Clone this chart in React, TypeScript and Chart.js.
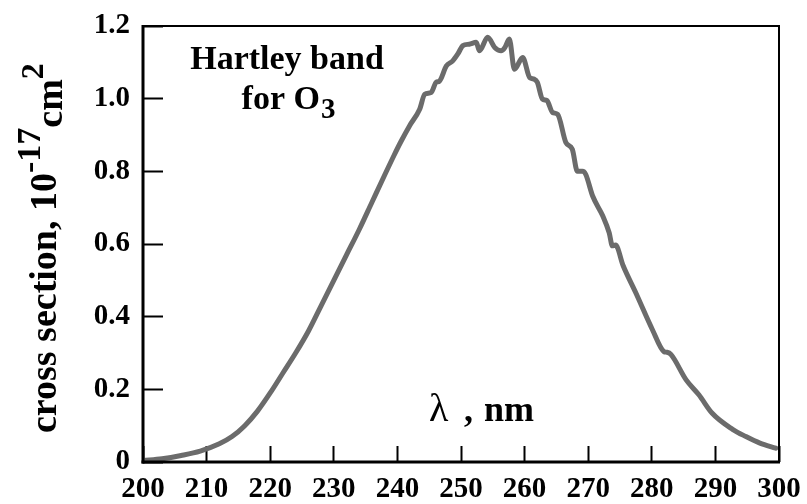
import React, { useEffect, useRef } from 'react';
import { Chart, registerables } from 'chart.js';

Chart.register(...registerables);

// Wavelength (nm)
const wavelengths = [
  200, 203, 206, 209, 212, 214, 216, 218, 220, 222, 224, 226, 228, 230, 232, 234, 236, 238,
  239.5, 240.5, 241.9, 243.5, 244.3, 245.3, 246.1, 246.6, 247.7, 248.7, 249.5, 250.3, 251.3,
  252.4, 252.9, 254.2, 255.3, 256.3, 256.9, 257.6, 258.4, 259.7, 260.8, 261.5, 262.0, 262.8,
  263.5, 264.4, 265.2, 266.5, 267.5, 268.3, 269.1, 269.6, 270.7, 272.3, 273.3, 273.8, 274.3,
  275.5, 277.5, 280.1, 281.9, 282.4, 283.0, 285.4, 287.4, 289.5, 292.7, 294.8, 297.0, 299.5,
];
// Cross section (10^-17 cm^2)
const crossSection = [
  0.004, 0.009, 0.018, 0.03, 0.05, 0.07, 0.1, 0.14, 0.19, 0.245, 0.3, 0.36, 0.43, 0.5, 0.57,
  0.64, 0.715, 0.79, 0.845, 0.88, 0.925, 0.971, 1.012, 1.017, 1.045, 1.048, 1.09, 1.104, 1.123,
  1.146, 1.15, 1.155, 1.132, 1.169, 1.141, 1.132, 1.141, 1.164, 1.081, 1.113, 1.058, 1.054,
  1.045, 0.999, 0.995, 0.962, 0.957, 0.879, 0.861, 0.8, 0.8, 0.792, 0.732, 0.677, 0.631, 0.595,
  0.597, 0.54, 0.465, 0.364, 0.304, 0.302, 0.296, 0.226, 0.185, 0.134, 0.09, 0.07, 0.052, 0.038,
];

const xTickValues = [200, 210, 220, 230, 240, 250, 260, 270, 280, 290, 300];
const yTickValues = [0, 0.2, 0.4, 0.6, 0.8, 1.0, 1.2];

const SERIF = '"Liberation Serif", "Times New Roman", serif';

const framePlugin = {
  id: 'frameAndText',
  afterDraw(chart: any) {
    const ctx = chart.ctx as CanvasRenderingContext2D;
    const area = chart.chartArea;
    const left = area.left;
    const right = area.right;
    const top = area.top;
    const bottom = area.bottom;
    ctx.save();
    ctx.fillStyle = '#000000';
    // frame
    ctx.fillRect(left - 1, top - 1, right - left + 2, 2);
    ctx.fillRect(right - 1, top - 1, 2, bottom - top + 2);
    ctx.fillRect(left - 1.5, top - 1, 3, bottom - top + 2.5);
    ctx.fillRect(left - 1.5, bottom - 1.5, right - left + 2.5, 3);

    ctx.textBaseline = 'alphabetic';

    // annotation: Hartley band / for O3
    ctx.font = `bold 34px ${SERIF}`;
    ctx.textAlign = 'center';
    ctx.fillText('Hartley band', 287, 69);
    ctx.textAlign = 'left';
    const l2 = 'for O';
    const w2 = ctx.measureText(l2).width;
    ctx.font = `bold 29px ${SERIF}`;
    const w3 = ctx.measureText('3').width;
    const start2 = 288 - (w2 + w3) / 2;
    ctx.font = `bold 34px ${SERIF}`;
    ctx.fillText(l2, start2, 109);
    ctx.font = `bold 29px ${SERIF}`;
    ctx.fillText('3', start2 + w2 + 1, 118);

    // x axis title: λ , nm
    ctx.font = `40px ${SERIF}`;
    ctx.fillText('λ', 429, 421);
    ctx.font = `bold 36px ${SERIF}`;
    ctx.fillText(',', 464, 421);
    ctx.fillText('nm', 484, 421);

    // y axis title (rotated)
    ctx.translate(56, 433);
    ctx.rotate(-Math.PI / 2);
    let pos = 0;
    const parts: [string, number, number][] = [
      ['cross section, 10', 38, 0],
      ['-17', 34, -16],
      ['cm', 38, 6],
      ['2', 32, -13],
    ];
    for (const [t, size, dy] of parts) {
      ctx.font = `bold ${size}px ${SERIF}`;
      ctx.fillText(t, pos, dy);
      pos += ctx.measureText(t).width;
    }
    ctx.restore();
  },
};

export default function App() {
  const ref = useRef<HTMLCanvasElement>(null);
  useEffect(() => {
    const points = wavelengths.map((x, i) => ({ x, y: crossSection[i] }));
    const chart = new Chart(ref.current as HTMLCanvasElement, {
      type: 'line',
      data: {
        datasets: [
          {
            data: points,
            borderColor: '#6b6b6b',
            borderWidth: 5,
            pointRadius: 0,
            cubicInterpolationMode: 'monotone',
            fill: false,
            borderCapStyle: 'round',
            borderJoinStyle: 'round',
          } as any,
        ],
      },
      options: {
        responsive: false,
        animation: false,
        layout: { padding: { left: 0, top: 26, right: 28, bottom: 0 } },
        plugins: { legend: { display: false }, tooltip: { enabled: false } },
        scales: {
          x: {
            type: 'linear',
            min: 200,
            max: 300,
            afterBuildTicks: (s: any) => {
              s.ticks = xTickValues.map((value) => ({ value }));
            },
            afterFit: (s: any) => {
              s.height = 42;
              s.paddingLeft = 0;
              s.paddingRight = 0;
            },
            grid: {
              display: true,
              drawOnChartArea: false,
              drawTicks: true,
              tickLength: -16,
              tickColor: '#000',
              tickWidth: 2,
            },
            border: { display: false },
            ticks: {
              color: '#000',
              font: { family: SERIF, size: 29, weight: 'bold' },
              padding: 26,
              maxRotation: 0,
              autoSkip: false,
              callback: (v: any) => String(v),
            },
          },
          y: {
            type: 'linear',
            min: 0,
            max: 1.2,
            afterBuildTicks: (s: any) => {
              s.ticks = yTickValues.map((value) => ({ value }));
            },
            afterFit: (s: any) => {
              s.width = 143;
              s.paddingTop = 0;
              s.paddingBottom = 0;
            },
            grid: {
              display: true,
              drawOnChartArea: false,
              drawTicks: true,
              tickLength: -20,
              tickColor: '#000',
              tickWidth: 2,
            },
            border: { display: false },
            ticks: {
              color: '#000',
              font: { family: SERIF, size: 29, weight: 'bold' },
              padding: 33,
              autoSkip: false,
              callback: (v: any) => (Number(v) === 0 ? '0' : Number(v).toFixed(1)),
            },
          },
        },
      } as any,
      plugins: [framePlugin],
    });
    return () => chart.destroy();
  }, []);
  return (
    <div style={{ position: 'fixed', left: 0, top: 0, width: 807, height: 504, background: '#fff' }}>
      <canvas ref={ref} width={807} height={504} style={{ display: 'block' }} />
    </div>
  );
}
